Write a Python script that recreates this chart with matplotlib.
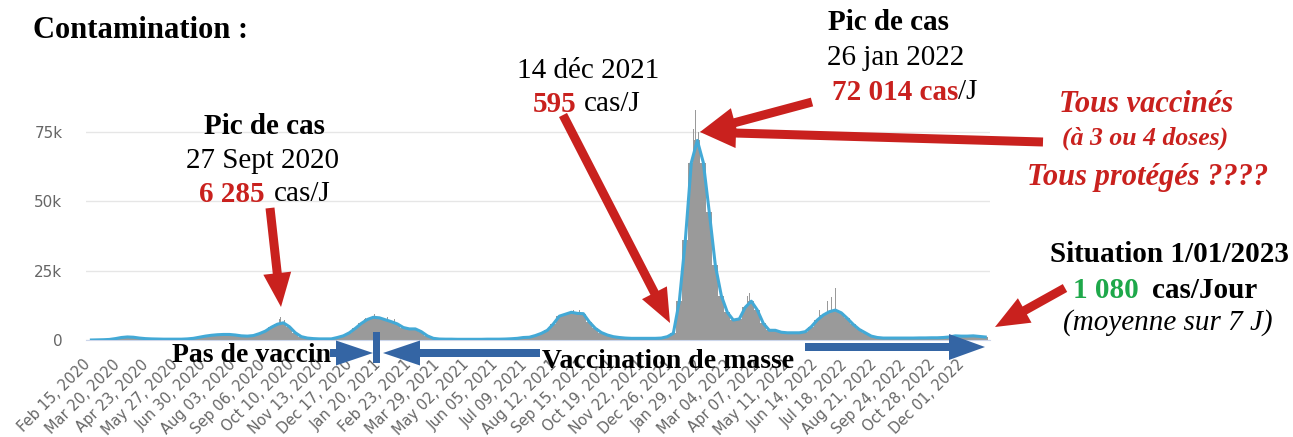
import numpy as np
import matplotlib
matplotlib.use("Agg")
import matplotlib.pyplot as plt
import matplotlib.dates as mdates
from matplotlib.patches import FancyArrow, Rectangle

# moyenne sur 7 jours, un point par semaine (milliers de cas/jour), premier point le 19 fev 2020
debut = np.datetime64("2020-02-19")
moy7 = [
    0, 0.05, 0.1, 0.2, 0.5, 0.9, 1.1, 1.0, 0.7, 0.5,
    0.4, 0.35, 0.3, 0.3, 0.3, 0.3, 0.4, 0.6, 1.0, 1.4,
    1.7, 1.9, 2.0, 2.0, 1.8, 1.5, 1.4, 1.6, 2.3, 3.2,
    4.6, 5.7, 6.2, 4.8, 2.6, 1.2, 0.7, 0.5, 0.4, 0.4,
    0.4, 0.9, 1.5, 2.6, 4.2, 6.0, 7.4, 8.2, 8.0, 7.3,
    6.6, 5.8, 4.5, 4.0, 4.0, 3.0, 1.5, 0.6, 0.35, 0.3,
    0.3, 0.25, 0.25, 0.25, 0.25, 0.25, 0.3, 0.3, 0.3, 0.35,
    0.45, 0.6, 0.9, 1.0, 1.6, 2.4, 3.5, 5.8, 8.6, 9.3,
    10.0, 9.6, 9.5, 6.5, 4.2, 2.7, 1.8, 1.2, 0.9, 0.7,
    0.6, 0.6, 0.6, 0.6, 0.6, 0.7, 1.2, 2.4, 14, 36,
    64, 72, 64, 46, 27, 16, 10, 7.2, 7.6, 11.8,
    14, 10.8, 6.0, 3.5, 3.5, 2.8, 2.6, 2.6, 2.6, 3.0,
    4.8, 7.2, 9.0, 10.2, 10.8, 9.8, 7.8, 5.6, 3.8, 2.6,
    1.4, 0.9, 0.7, 0.7, 0.7, 0.7, 0.7, 0.7, 0.75, 0.75,
    0.8, 0.8, 0.9, 1.1, 1.5, 1.4, 1.4, 1.5, 1.3, 1.08,
]
# jours isoles au-dessus de la moyenne (milliers)
pics_dates = ["2020-09-25", "2020-09-27", "2020-10-01", "2021-01-04", "2021-01-14",
              "2021-01-30", "2021-02-07", "2021-09-03", "2021-09-11", "2022-01-21",
              "2022-01-24", "2022-01-27", "2022-03-25", "2022-03-28", "2022-06-17",
              "2022-06-27", "2022-07-02", "2022-07-06"]
pics_vals = [7.6, 8.3, 7.2, 8.0, 9.2, 8.3, 7.7, 11, 10.8, 76, 83, 75, 16, 17, 11, 13.9, 15.6, 18.7]

yticks = [0, 25000, 50000, 75000]
ylabels = ["0", "25k", "50k", "75k"]

W, H = 1293, 437
fig = plt.figure(figsize=(W / 100, H / 100), dpi=100)
ax = fig.add_axes([86 / W, 97 / H, 904 / W, 235.6 / H])

dates = debut + np.arange(len(moy7)) * 7
vals = np.array(moy7) * 1000
ax.bar(dates, vals, width=7, color="#9a9a9a", linewidth=0, zorder=2)
ax.bar(np.array(pics_dates, dtype="datetime64[D]"), np.array(pics_vals) * 1000,
       width=1.2, color="#9a9a9a", linewidth=0, zorder=2)
ax.plot(dates, vals, color="#43a9d6", lw=2.2, zorder=3)

d0 = np.datetime64("2020-02-15")
n0 = mdates.date2num(d0)
ax.set_xlim(n0 - 2.3, n0 + 1052.5)
ax.set_ylim(0, 85000)
ax.set_yticks(yticks)
ax.set_yticklabels(ylabels)
ax.grid(axis="y", color="#e6e6e6", lw=1)
ax.set_axisbelow(True)
for s in ["top", "right", "left"]:
    ax.spines[s].set_visible(False)
ax.spines["bottom"].set_color("#ccd6eb")

ticks = np.arange(d0, np.datetime64("2022-12-02"), 34)
ax.set_xticks(mdates.date2num(ticks))
ax.set_xticklabels([f"{d:%b %d, %Y}" for d in ticks.astype(object)],
                   rotation=45, ha="right", va="center", rotation_mode="anchor")
ax.tick_params(axis="x", length=0, pad=16, labelsize=10.5, labelcolor="#666666")
ax.tick_params(axis="y", length=0, pad=17, labelsize=11, labelcolor="#666666")

# calque en pixels pour les annotations
ov = fig.add_axes([0, 0, 1, 1])
ov.set_xlim(0, W)
ov.set_ylim(H, 0)
ov.axis("off")
ov.patch.set_alpha(0)

rouge = "#c9211e"
bleu = "#3465a4"
vert = "#1ea84a"
serif = "Liberation Serif"


def txt(x, y, s, size=21, ha="center", color="black", weight="normal", style="normal"):
    ov.text(x, y, s, ha=ha, va="center", fontsize=size, color=color,
            fontweight=weight, fontstyle=style, family=serif, zorder=10)


def fleche(x0, y0, x1, y1, color, w=9, hw=28, hl=34):
    ov.add_patch(FancyArrow(x0, y0, x1 - x0, y1 - y0, width=w, head_width=hw,
                            head_length=hl, length_includes_head=True,
                            color=color, lw=0, zorder=8))


txt(33, 30, "Contamination :", size=22, ha="left", weight="bold")

txt(264, 127, "Pic de cas", weight="bold")
txt(263, 161, "27 Sept 2020")
txt(265, 194, "6 285", ha="right", color=rouge, weight="bold")
txt(274, 194, "cas/J", ha="left")

txt(588, 71, "14 déc 2021")
txt(576, 104, "595", ha="right", color=rouge, weight="bold")
txt(584, 104, "cas/J", ha="left")

txt(889, 23, "Pic de cas", weight="bold")
txt(896, 58, "26 jan 2022")
txt(958, 92, "72 014 cas", ha="right", color=rouge, weight="bold")
txt(958, 92, "/J", ha="left")

txt(1146, 104, "Tous vaccinés", size=22, color=rouge, weight="bold", style="italic")
txt(1145, 138, "(à 3 ou 4 doses)", size=18.5, color=rouge, weight="bold", style="italic")
txt(1148, 178, "Tous protégés ????", size=22, color=rouge, weight="bold", style="italic")

txt(1169, 254, "Situation 1/01/2023", weight="bold")
txt(1139, 290, "1 080", ha="right", color=vert, weight="bold")
txt(1152, 290, "cas/Jour", ha="left", weight="bold")
txt(1168, 323, "(moyenne sur 7 J)", style="italic")

txt(251, 356, "Pas de vaccin", size=20, weight="bold")
txt(668, 361, "Vaccination de masse", size=20, weight="bold")

fleche(270, 208, 281, 307, rouge)
fleche(563, 115, 670, 323, rouge)
fleche(812, 102, 700, 132, rouge, hw=30, hl=36)
fleche(1043, 142, 700, 132, rouge, hw=30, hl=36)
fleche(1065, 288, 995, 327, rouge)

fleche(330, 353, 373, 353, bleu, w=8, hw=25, hl=37)
ov.add_patch(Rectangle((373, 332), 7, 31, color=bleu, lw=0, zorder=8))
fleche(540, 353, 383, 353, bleu, w=8, hw=25, hl=37)
fleche(805, 347, 985, 347, bleu, w=8, hw=26, hl=36)

fig.savefig("out.png", dpi=100)
